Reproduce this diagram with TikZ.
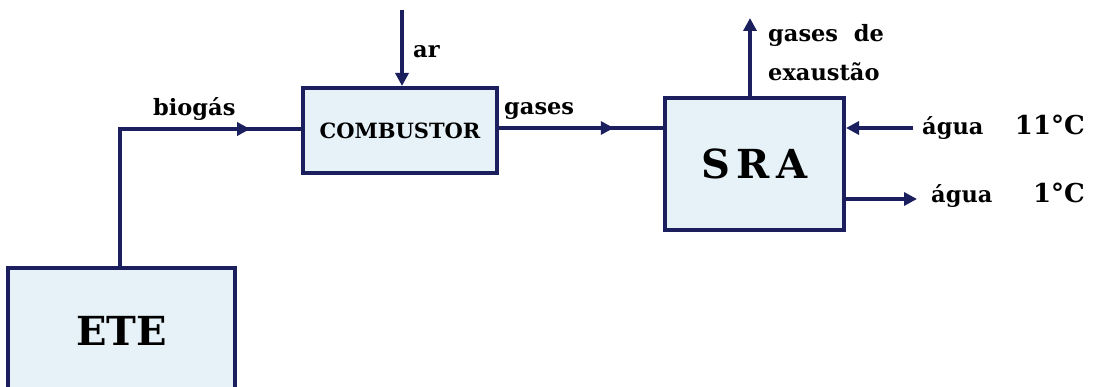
\documentclass[tikz,border=0pt]{standalone}
\usepackage{fontspec}
\setmainfont{DejaVu Serif}
\usetikzlibrary{arrows.meta,decorations.markings}
\definecolor{navy}{HTML}{1B1F5E}
\definecolor{boxfill}{HTML}{E6F2F8}
\tikzset{
  blk/.style={draw=navy,line width=4pt,fill=boxfill,inner sep=0pt},
  flow/.style={draw=navy,line width=3.5pt},
  arr/.style={flow,-{Triangle[length=13pt,width=13pt]}},
  midarr/.style={flow,postaction={decorate},decoration={markings,mark=at position #1 with {\arrow{Triangle[length=13pt,width=13pt]}}}},
  lbl/.style={font=\bfseries\fontsize{22.5}{26}\selectfont,inner sep=0pt,text=black},
  temp/.style={font=\bfseries\fontsize{26}{30}\selectfont,inner sep=0pt,text=black}
}
\begin{document}
\begin{tikzpicture}[x=1pt,y=-1pt]
\useasboundingbox (0,0) rectangle (1094,387);
\clip (0,0) rectangle (1094,387);
% boxes
\node[blk,minimum width=227pt,minimum height=130pt] (ete) at (121.5,333) {};
\node[font=\bfseries\fontsize{40}{46}\selectfont,text=black] at (121.5,331) {ETE};
\node[blk,minimum width=194pt,minimum height=85pt,font=\bfseries\fontsize{21}{24}\selectfont] (comb) at (400,130.5) {COMBUSTOR};
\node[blk,minimum width=179pt,minimum height=132pt,font=\bfseries\fontsize{40}{46}\selectfont] (sra) at (754.5,164) {S\,R\,A};
% coordinates
\coordinate (bend) at (120,129);
\coordinate (arin) at (402,10);
\coordinate (exh) at (750,18);
\coordinate (win) at (913,128);
\coordinate (wout) at (917,199);
% connectors
\draw[midarr=0.84] (ete.north -| bend) -- (bend) -- (comb.west |- bend);
\draw[arr] (arin) -- (comb.north -| arin);
\draw[midarr=0.70] (comb.east |- 0,128) -- (sra.west |- 0,128);
\draw[arr] (sra.north -| exh) -- (exh);
\draw[arr] (win) -- (sra.east |- win);
\draw[arr] (sra.east |- wout) -- (wout);
% labels
\node[lbl,anchor=base west] at (153,116) {biogás};
\node[lbl,anchor=base west] at (413,58) {ar};
\node[lbl,anchor=base west] at (504,115) {gases};
\node[lbl,anchor=base west] at (768,42) {gases\ \ de};
\node[lbl,anchor=base west] at (768,81) {exaustão};
\node[lbl,anchor=base west] at (922,135) {água};
\node[temp,anchor=base east] at (1085,135) {11°C};
\node[lbl,anchor=base west] at (931,203) {água};
\node[temp,anchor=base east] at (1085,203) {1°C};
\end{tikzpicture}
\end{document}
